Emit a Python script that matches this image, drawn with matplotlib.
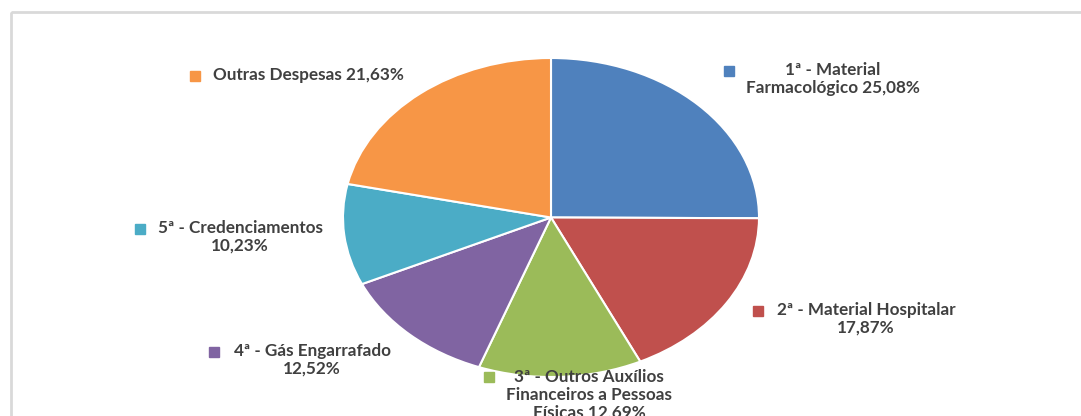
import matplotlib.pyplot as plt
from matplotlib.patches import Rectangle

# data
categories = ["1ª - Material\nFarmacológico", "2ª - Material Hospitalar\n",
              "3ª - Outros Auxílios\nFinanceiros a Pessoas\nFísicas",
              "4ª - Gás Engarrafado\n", "5ª - Credenciamentos\n", "Outras Despesas"]
values = [25.08, 17.87, 12.69, 12.52, 10.23, 21.63]
colors = ["#4F81BD", "#C0504D", "#9BBB59", "#8064A2", "#4BACC6", "#F79646"]

W, H = 1081, 416
fig = plt.figure(figsize=(W / 100, H / 100), dpi=100)

# pie axes (ellipse bounding box in pixels)
left, right, top, bottom = 343, 759, 58, 377
axp = fig.add_axes([left / W, (H - bottom) / H, (right - left) / W, (bottom - top) / H])
axp.pie(values, colors=colors, startangle=90, counterclock=False,
        wedgeprops=dict(edgecolor="white", linewidth=1.5))
axp.set_aspect("auto")
axp.set_xlim(-1, 1)
axp.set_ylim(-1, 1)

# overlay in pixel coordinates
ax = fig.add_axes([0, 0, 1, 1])
ax.set_xlim(0, W)
ax.set_ylim(H, 0)
ax.axis("off")
ax.set_zorder(3)
ax.patch.set_alpha(0)

ax.add_patch(Rectangle((11, 12), 1200, 600, fill=False, edgecolor="#D9D9D9", linewidth=2))

# label layout: (text center x, top y, marker x, marker y)
label_pos = [(833, 62, 729, 71), (866, 302, 758, 311), (589, 369, 489, 377),
             (312, 343, 214, 352), (240, 220, 140, 229), (308, 67, 195, 76)]

for cat, val, col, (tx, ty, mx, my) in zip(categories, values, colors, label_pos):
    pct = "{:.2f}%".format(val).replace(".", ",")
    if cat.endswith("\n"):
        txt = cat + pct
    else:
        txt = cat + " " + pct
    ax.text(tx, ty, txt, ha="center", va="top", multialignment="center",
            fontsize=12.3, fontweight="bold", color="#404040", family="Lato",
            linespacing=1.12)
    ax.plot(mx, my, marker="s", markersize=7, color=col, linestyle="none")

fig.savefig("out.png", dpi=100)
